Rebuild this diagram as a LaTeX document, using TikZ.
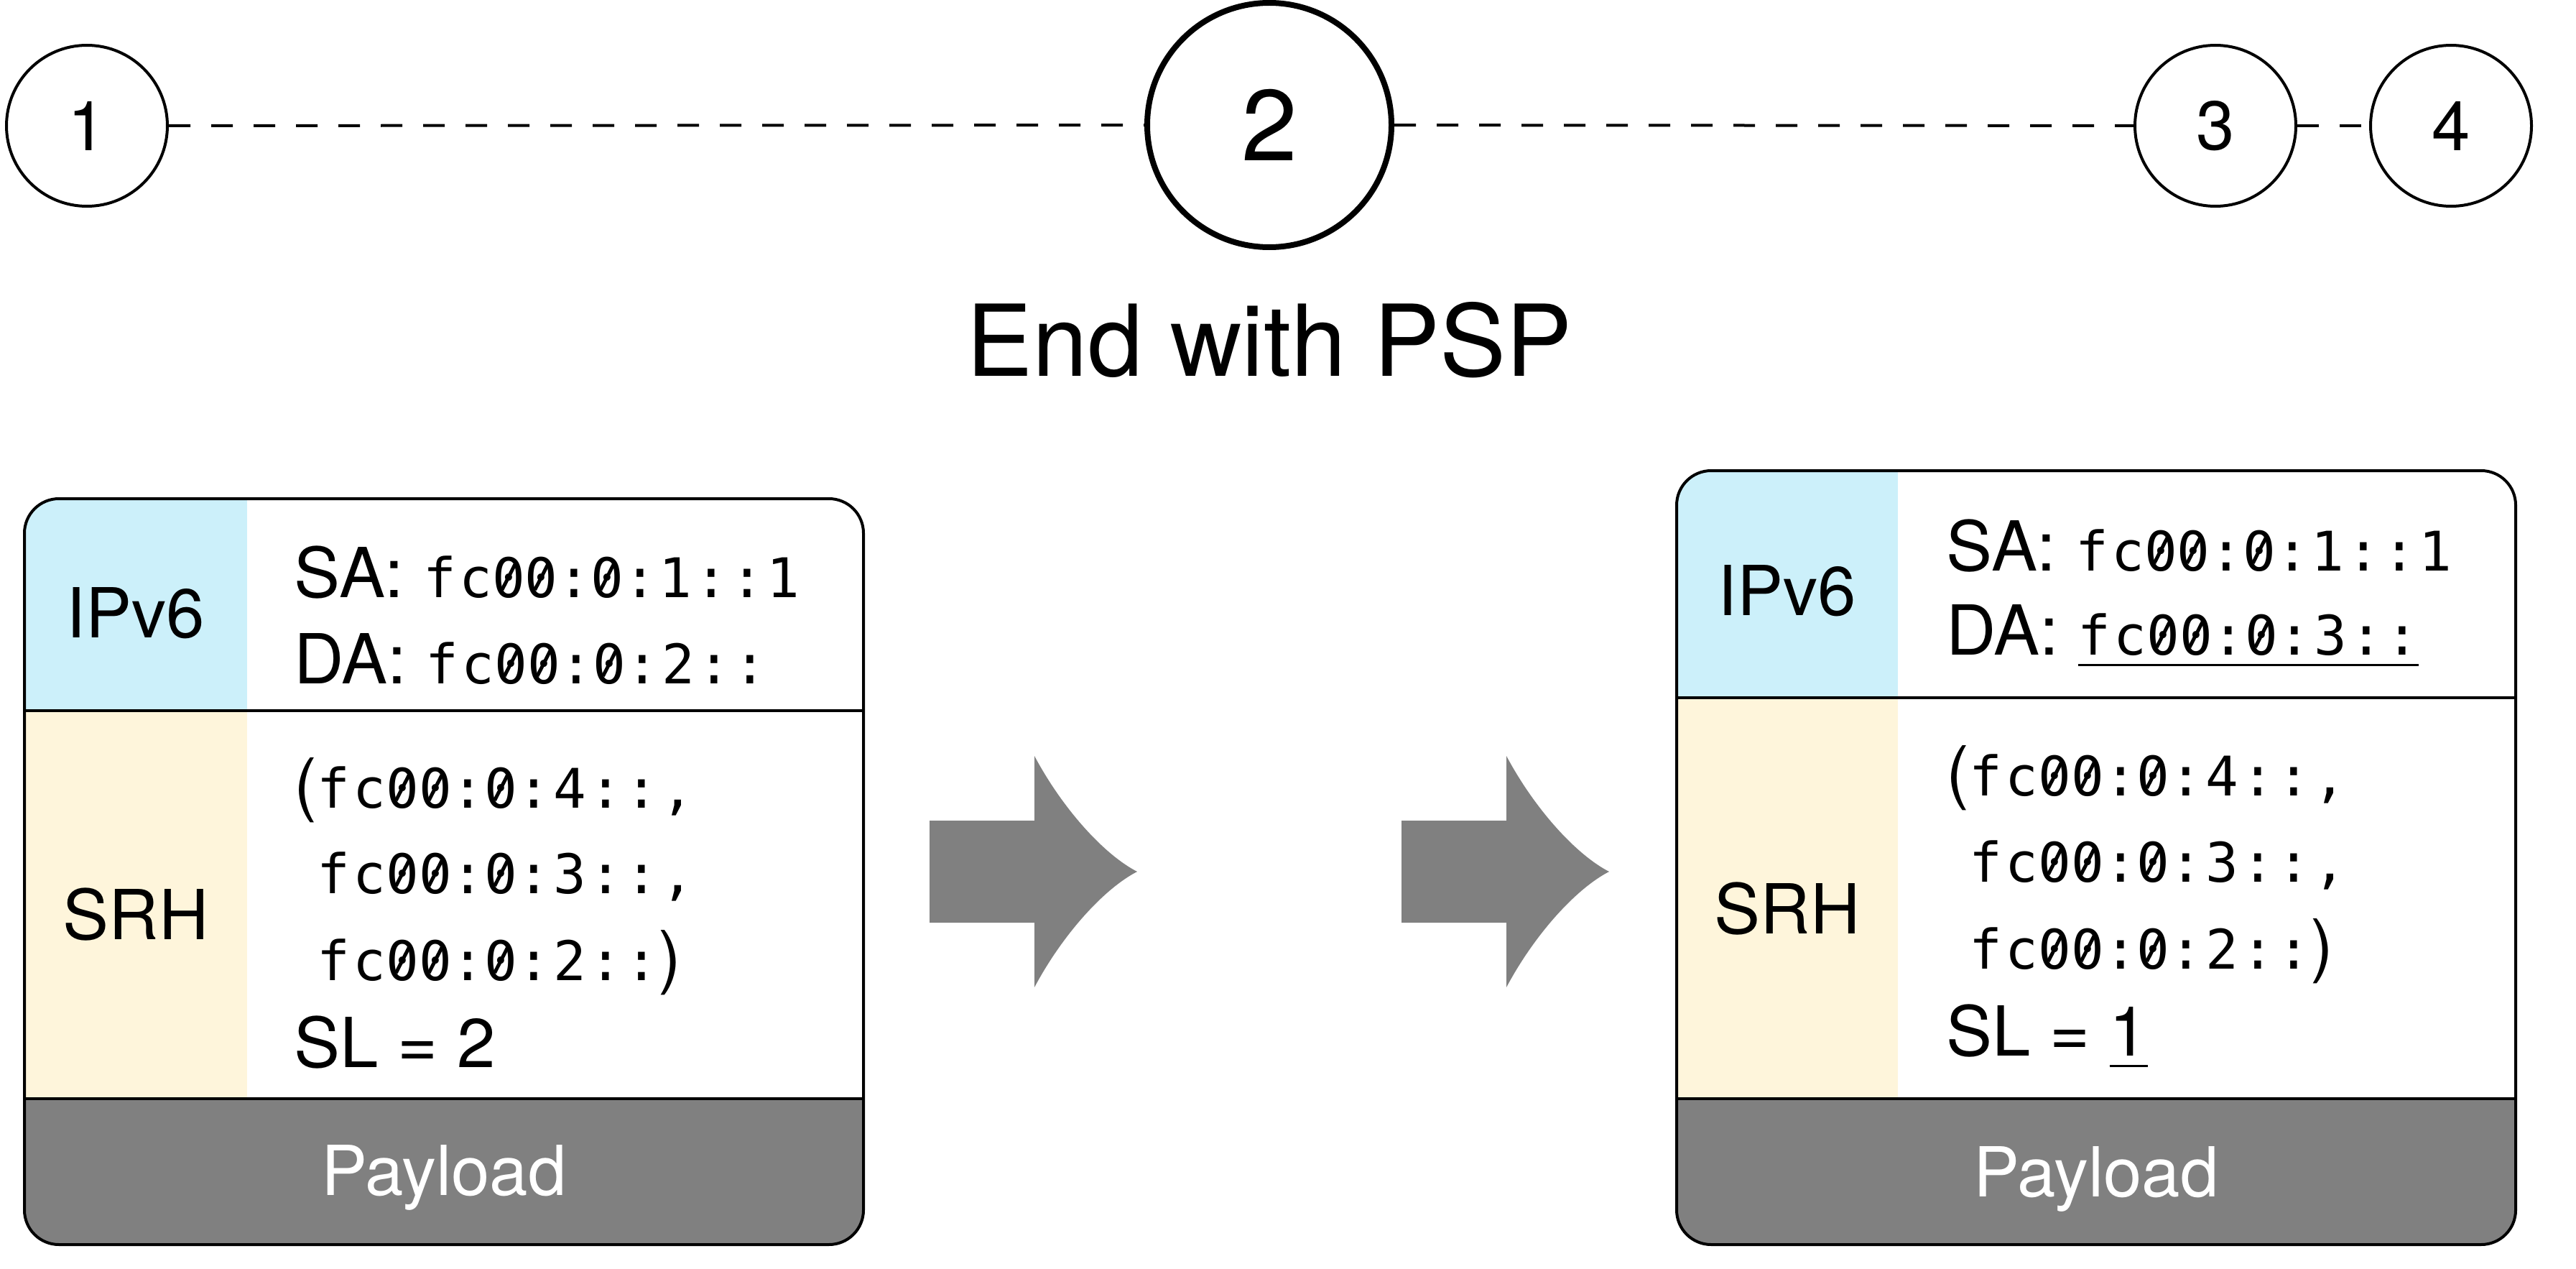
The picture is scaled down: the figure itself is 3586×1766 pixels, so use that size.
\documentclass[tikz,border=0pt]{standalone}
\usepackage{fontspec}
\setmainfont{TeX Gyre Heros}
\newfontfamily\monof[LetterSpace=5.5]{DejaVu Sans Mono}
\definecolor{hdrblue}{HTML}{CCF0FA}
\definecolor{hdryellow}{HTML}{FEF5DB}
\definecolor{paygray}{HTML}{808080}
\newcommand\myul[1]{\setbox0\hbox{#1}\rlap{\rule[-4.1pt]{\wd0}{0.8pt}}\box0}
\newcommand\addr[1]{{\monof\fontsize{19pt}{23pt}\selectfont #1}}
\newcommand\zs{\ooalign{0\cr\hidewidth\raisebox{0.12em}{\rotatebox{63}{\rule{0.52em}{0.065em}}}\hidewidth\cr}}
\begin{document}
\begin{tikzpicture}[x=0.25pt,y=-0.25pt,
  hop/.style={circle,draw,line width=1pt,minimum size=56pt,inner sep=0pt,font=\fontsize{24pt}{28pt}\selectfont},
  bighop/.style={circle,draw,line width=2pt,minimum size=85pt,inner sep=0pt,font=\fontsize{35pt}{40pt}\selectfont},
  link/.style={line width=1pt,dash pattern=on 7.5pt off 7.25pt},
  txt/.style={inner sep=0pt,anchor=base west,font=\fontsize{24pt}{28pt}\selectfont},
  lbl/.style={inner sep=0pt,anchor=base,font=\fontsize{24pt}{28pt}\selectfont},
  paylbl/.style={lbl,text=white},
  boxline/.style={line width=1pt},
  bigarrow/.style={fill=paygray,draw=none}
]
\useasboundingbox (0,0) rectangle (3586,1766);

% hops
\node[hop] (n1) at (121,175) {1};
\node[bighop] (n2) at (1767,174) {2};
\node[hop] (n3) at (3084,175) {3};
\node[hop] (n4) at (3412,175) {4};
\draw[link] (n1) -- (n2);
\draw[link] (n2) -- (n3);
\draw[link] (n3) -- (n4);

\node[inner sep=0pt,anchor=base,font=\fontsize{34.5pt}{40pt}\selectfont] (title) at (1767,523) {End with PSP};

% left packet
\begin{scope}
\clip[rounded corners=12pt] (34,694) rectangle (1202,1732);
\fill[white] (34,694) rectangle (1202,1732);
\fill[hdrblue] (34,694) rectangle (344,989);
\fill[hdryellow] (34,989) rectangle (344,1529);
\fill[paygray] (34,1529) rectangle (1202,1732);
\end{scope}
\draw[boxline] (34,989) -- (1202,989);
\draw[boxline] (34,1529) -- (1202,1529);
\draw[boxline,rounded corners=12pt] (34,694) rectangle (1202,1732);

\node[lbl] (ipl) at (189,887) {IPv6};
\node[lbl] (srhl) at (189,1307) {SRH};
\node[paylbl] (payl) at (618,1663) {Payload};
\node[txt] (sal) at (409,831) {SA: \addr{fc\zs\zs:\zs:1::1}};
\node[txt] (dal) at (409,951) {DA: \addr{fc\zs\zs:\zs:2::}};
\node[txt] (s1l) at (409,1124) {(\addr{fc\zs\zs:\zs:4::,}};
\node[txt] (s2l) at (409,1243) {\phantom{(}\addr{fc\zs\zs:\zs:3::,}};
\node[txt] (s3l) at (409,1364) {\phantom{(}\addr{fc\zs\zs:\zs:2::})};
\node[txt] (sll) at (409,1485) {SL = 2};

% arrows
\fill[bigarrow] (1294,1142) -- (1440,1142) -- (1440,1052) .. controls (1480,1127) and (1538,1190) .. (1583,1213) .. controls (1538,1236) and (1480,1299) .. (1440,1374) -- (1440,1284) -- (1294,1284) -- cycle;
\begin{scope}[shift={(657,0)}]
\fill[bigarrow] (1294,1142) -- (1440,1142) -- (1440,1052) .. controls (1480,1127) and (1538,1190) .. (1583,1213) .. controls (1538,1236) and (1480,1299) .. (1440,1374) -- (1440,1284) -- (1294,1284) -- cycle;
\end{scope}

% right packet
\begin{scope}
\clip[rounded corners=12pt] (2334,655) rectangle (3502,1732);
\fill[white] (2334,655) rectangle (3502,1732);
\fill[hdrblue] (2334,655) rectangle (2642,971);
\fill[hdryellow] (2334,971) rectangle (2642,1529);
\fill[paygray] (2334,1529) rectangle (3502,1732);
\end{scope}
\draw[boxline] (2334,971) -- (3502,971);
\draw[boxline] (2334,1529) -- (3502,1529);
\draw[boxline,rounded corners=12pt] (2334,655) rectangle (3502,1732);

\node[lbl] (ipr) at (2488,856) {IPv6};
\node[lbl] (srhr) at (2488,1299) {SRH};
\node[paylbl] (payr) at (2918,1665) {Payload};
\node[txt] (sar) at (2709,794) {SA: \addr{fc\zs\zs:\zs:1::1}};
\node[txt] (dar) at (2709,911) {DA: \myul{\addr{fc\zs\zs:\zs:3::}}};
\node[txt] (s1r) at (2709,1107) {(\addr{fc\zs\zs:\zs:4::,}};
\node[txt] (s2r) at (2709,1227) {\phantom{(}\addr{fc\zs\zs:\zs:3::,}};
\node[txt] (s3r) at (2709,1348) {\phantom{(}\addr{fc\zs\zs:\zs:2::})};
\node[txt] (slr) at (2709,1469) {SL = \myul{1}};
\end{tikzpicture}
\end{document}
